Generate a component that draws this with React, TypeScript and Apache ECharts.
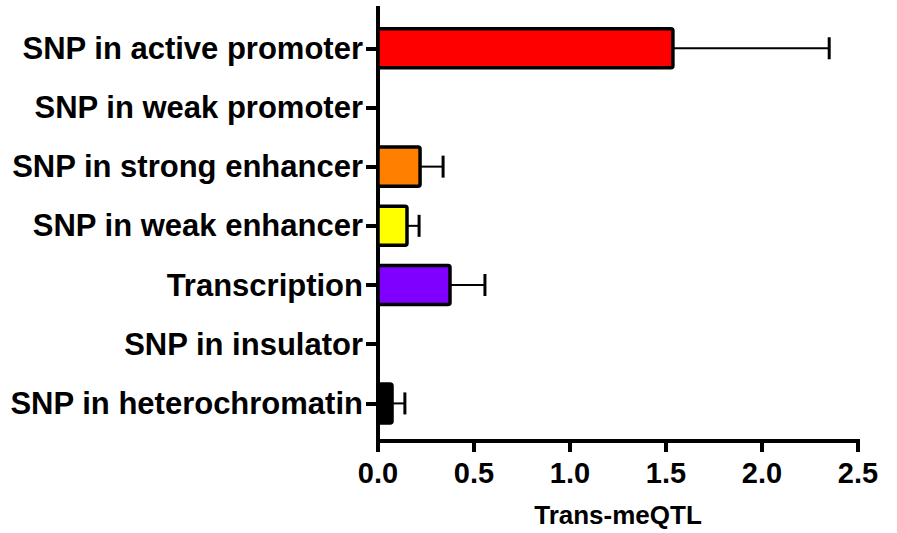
import React, { useEffect, useRef } from "react";
import * as echarts from "echarts";

const categories = [
  "SNP in active promoter",
  "SNP in weak promoter",
  "SNP in strong enhancer",
  "SNP in weak enhancer",
  "Transcription",
  "SNP in insulator",
  "SNP in heterochromatin",
];
const means: (number | null)[] = [1.536, null, 0.219, 0.151, 0.375, null, 0.073];
const upperErr: (number | null)[] = [2.35, null, 0.339, 0.214, 0.557, null, 0.14];
const barColors = ["#ff0000", "#ffffff", "#ff8000", "#ffff00", "#7f00ff", "#ffffff", "#000000"];
const xTitle = "Trans-meQTL";

const FONT = "'Liberation Sans', Arial, Helvetica, sans-serif";

export default function App() {
  const ref = useRef<HTMLDivElement>(null);
  useEffect(() => {
    document.body.style.margin = "0";
    if (!ref.current) return;
    const chart = echarts.init(ref.current, null, { renderer: "svg" });
    const data = categories
      .map((_, i) => (means[i] == null ? null : [means[i], i, upperErr[i]]))
      .filter((d) => d != null);
    chart.setOption({
      animation: false,
      grid: { left: 378, right: 39, top: 8, bottom: 89 },
      xAxis: {
        type: "value",
        min: 0,
        max: 2.5,
        interval: 0.5,
        splitLine: { show: false },
        axisLine: { show: true, onZero: false, lineStyle: { color: "#000", width: 4, cap: "square" } },
        axisTick: { show: true, length: 11, lineStyle: { color: "#000", width: 4 } },
        axisLabel: {
          color: "#000",
          fontFamily: FONT,
          fontWeight: "bold",
          fontSize: 29,
          margin: 17,
          formatter: (v: number) => v.toFixed(1),
        },
        name: xTitle,
        nameLocation: "middle",
        nameGap: 61,
        nameTextStyle: { color: "#000", fontFamily: FONT, fontWeight: "bold", fontSize: 26 },
      },
      yAxis: {
        type: "value",
        inverse: true,
        min: -0.68,
        max: 6.635,
        splitLine: { show: false },
        axisLine: { show: true, onZero: false, lineStyle: { color: "#000", width: 4, cap: "square" } },
        axisTick: {
          show: true,
          length: 12,
          customValues: categories.map((_, i) => i),
          lineStyle: { color: "#000", width: 4 },
        },
        axisLabel: {
          color: "#000",
          fontFamily: FONT,
          fontWeight: "bold",
          fontSize: 31,
          margin: 15,
          customValues: categories.map((_, i) => i),
          formatter: (v: number) => categories[Math.round(v)] ?? "",
        },
      },
      series: [
        {
          type: "custom",
          clip: false,
          encode: { x: 0, y: 1 },
          data,
          renderItem: (params: any, api: any) => {
            const v = api.value(0);
            const i = api.value(1);
            const e = api.value(2);
            const p0 = api.coord([0, i]);
            const p1 = api.coord([v, i]);
            const pe = api.coord([e, i]);
            const h = api.size([0, 0.66])[1];
            const cap = 11;
            return {
              type: "group",
              children: [
                {
                  type: "line",
                  shape: { x1: p1[0], y1: p1[1], x2: pe[0], y2: pe[1] },
                  style: { stroke: "#000", lineWidth: 2 },
                },
                {
                  type: "line",
                  shape: { x1: pe[0], y1: pe[1] - cap, x2: pe[0], y2: pe[1] + cap },
                  style: { stroke: "#000", lineWidth: 3 },
                },
                {
                  type: "rect",
                  shape: { x: p0[0], y: p0[1] - h / 2, width: p1[0] - p0[0], height: h, r: 2 },
                  style: { fill: barColors[i], stroke: "#000", lineWidth: 3.5 },
                },
              ],
            };
          },
        },
      ],
    });
    return () => chart.dispose();
  }, []);
  return <div ref={ref} style={{ width: 897, height: 533 }} />;
}
